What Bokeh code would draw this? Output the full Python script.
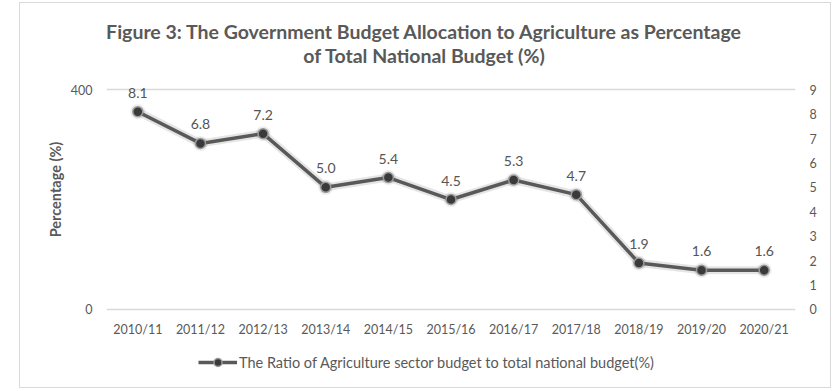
from bokeh.plotting import figure
from bokeh.models import (Range1d, LinearAxis, FixedTicker, Label, LabelSet,
                          ColumnDataSource, Legend, LegendItem)
from bokeh.core.properties import value
from bokeh.embed import file_html
from bokeh.resources import INLINE

years = ["2010/11", "2011/12", "2012/13", "2013/14", "2014/15", "2015/16",
         "2016/17", "2017/18", "2018/19", "2019/20", "2020/21"]
ratio = [8.1, 6.8, 7.2, 5.0, 5.4, 4.5, 5.3, 4.7, 1.9, 1.6, 1.6]
ratio_text = ["8.1", "6.8", "7.2", "5.0", "5.4", "4.5", "5.3", "4.7", "1.9", "1.6", "1.6"]
left_ticks = [0, 400]
right_ticks = [0, 1, 2, 3, 4, 5, 6, 7, 8, 9]
title_lines = ["Figure 3: The Government Budget Allocation to Agriculture as Percentage",
               "of Total National Budget (%)"]
series_name = "The Ratio of Agriculture sector budget to total national budget(%)"

FONT = "Lato"
TXT = "#595959"

# plotting area: the left scale 0..400 and right scale 0..9 share the same band;
# the ranges extend beyond it to leave room for the title (above) and legend (below)
PX_PER_BAND = 219.0
ABOVE_PX, BELOW_PX = 85.0, 65.0
l_lo = -BELOW_PX * left_ticks[-1] / PX_PER_BAND
l_hi = left_ticks[-1] + ABOVE_PX * left_ticks[-1] / PX_PER_BAND
r_lo = -BELOW_PX * right_ticks[-1] / PX_PER_BAND
r_hi = right_ticks[-1] + ABOVE_PX * right_ticks[-1] / PX_PER_BAND

xs = list(range(len(years)))
src = ColumnDataSource(data=dict(x=xs, y=ratio, t=ratio_text))

p = figure(width=810, height=384,
           x_range=Range1d(-0.5, len(years) - 0.5), y_range=Range1d(l_lo, l_hi),
           output_backend="svg", toolbar_location=None,
           min_border_left=86, min_border_right=35,
           min_border_top=1, min_border_bottom=13)
p.margin = (3, 0, 0, 20)
p.styles = {"outline": "1px solid #d9d9d9"}
p.outline_line_color = None
p.background_fill_color = "white"
p.border_fill_color = "white"
p.extra_y_ranges = {"right": Range1d(r_lo, r_hi)}

raxis = LinearAxis(y_range_name="right", ticker=FixedTicker(ticks=right_ticks))
p.add_layout(raxis, "right")

p.xaxis.ticker = FixedTicker(ticks=xs)
p.xaxis.major_label_overrides = {i: y for i, y in zip(xs, years)}
p.xaxis.fixed_location = 0
p.yaxis[0].ticker = FixedTicker(ticks=left_ticks)
p.yaxis[0].axis_label = "Percentage (%)"
p.yaxis[0].axis_label_text_font = FONT
p.yaxis[0].axis_label_text_font_style = "bold"
p.yaxis[0].axis_label_text_font_size = "14.5px"
p.yaxis[0].axis_label_text_color = TXT
p.yaxis[0].axis_label_standoff = 4

for ax in [p.xaxis[0], p.yaxis[0], raxis]:
    ax.axis_line_color = None
    ax.major_tick_line_color = None
    ax.minor_tick_line_color = None
    ax.major_tick_out = 0
    ax.major_tick_in = 0
    ax.minor_tick_out = 0
    ax.major_label_text_font = FONT
    ax.major_label_text_font_size = "12.5px"
    ax.major_label_text_color = TXT
p.xaxis.major_label_standoff = 13
p.yaxis[0].major_label_standoff = 14
raxis.major_label_standoff = 14

p.xgrid.grid_line_color = None
p.ygrid.ticker = FixedTicker(ticks=left_ticks)
p.ygrid.grid_line_color = "#d9d9d9"
p.ygrid.grid_line_width = 1.5

# soft shadow
p.line("x", "y", source=src, y_range_name="right", line_color="#000000",
       line_alpha=0.10, line_width=8)
p.scatter("x", "y", source=src, y_range_name="right", size=15,
          fill_color="#000000", fill_alpha=0.08, line_color=None)

ln = p.line("x", "y", source=src, y_range_name="right", line_color="#595959",
            line_width=3.5)
mk = p.scatter("x", "y", source=src, y_range_name="right", size=10,
               fill_color="#3a3a3a", line_color="#9a9a9a", line_width=1.5)

labels = LabelSet(x="x", y="y", text="t", source=src, y_range_name="right",
                  y_offset=14, text_align="center", text_baseline="bottom",
                  text_font=value(FONT), text_font_size="14px", text_color="#555555")
p.add_layout(labels)

# title lines (positions in the right-axis frame, above the 9 gridline)
title_y = [11.38, 10.40]
for line, ty in zip(title_lines, title_y):
    p.add_layout(Label(x=4.577, y=ty, y_range_name="right", text=line,
                       text_align="center", text_baseline="middle",
                       text_font=FONT, text_font_style="bold",
                       text_font_size="19.5px", text_color=TXT))

legend = Legend(items=[LegendItem(label=series_name, renderers=[ln, mk])],
                location=(92, 2), orientation="horizontal",
                border_line_color=None, background_fill_alpha=0,
                padding=0, margin=0, glyph_width=39, label_standoff=2,
                label_text_font=FONT, label_text_font_size="14.5px",
                label_text_color=TXT)
p.add_layout(legend, "center")

open("out.html", "w").write(file_html(p, INLINE))
